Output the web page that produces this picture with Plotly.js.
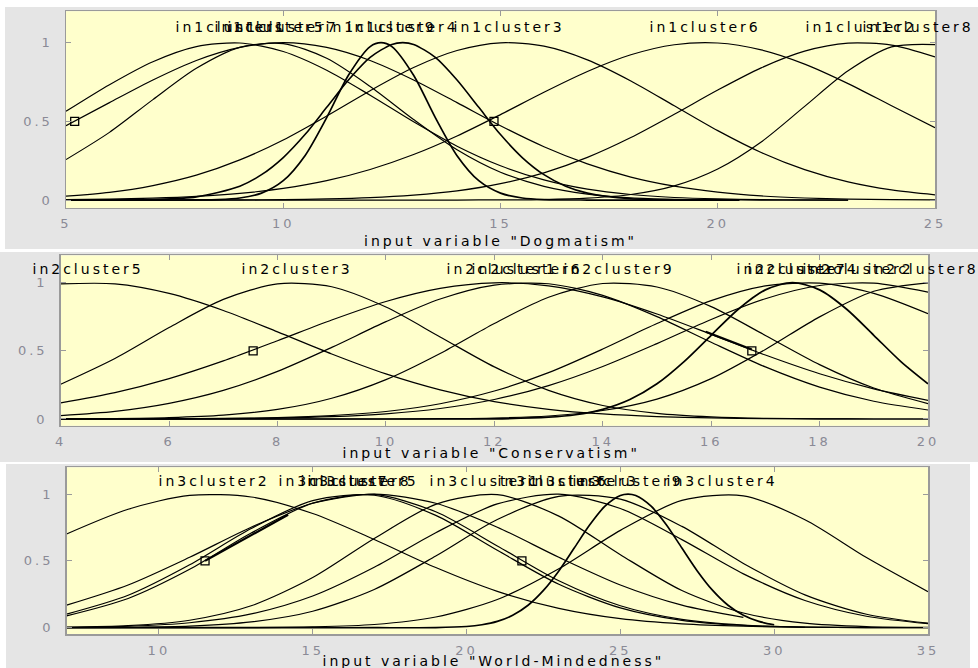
<!DOCTYPE html>
<html><head><meta charset="utf-8">
<script src="https://cdn.plot.ly/plotly-3.0.1.min.js"></script>
<style>
html,body{margin:0;padding:0;background:#fff;}
#wrap{position:relative;width:978px;height:668px;background:#fff;overflow:hidden;}
.panel{position:absolute;background:#e5e5e5;}
#chart{position:absolute;left:0;top:0;width:978px;height:668px;}
#chart text{letter-spacing:3px;}
</style></head><body>
<div id="wrap">
<div class="panel" style="left:5px;top:7px;width:973px;height:242px"></div>
<div class="panel" style="left:0;top:252px;width:978px;height:210px"></div>
<div class="panel" style="left:6px;top:464px;width:964px;height:204px"></div>
<div id="chart"></div>
</div>
<script>
// ---------- Plot 1: Dogmatism ----------
const dogX   = [5,6,7,8,9,10,11,12,13,14,15,16,17,18,19,20,21,22,23,24,25];
const dogX23 = [5,6,7,8,9,10,11,12,13,14,15,16,17,18,19,20,21,22,23];
const dogXD  = [5,6,7,8,8.5,9,9.5,10,10.5,11,11.5,12,12.25,12.5,13,13.5,14,14.5,15,15.5,16,17,18,19,20,20.5];
const dogXE  = [5,6,7,8,9,9.5,10,10.5,11,11.5,12,12.5,12.75,13,13.5,14,14.5,15,15.5,16,16.5,17,18,19,19.5];
const in1c1 = [0.564,0.733,0.879,0.975,0.998,0.944,0.825,0.666,0.497,0.342,0.218,0.128,0.069,0.035,0.016,0.007,0.003,0.001,0.000];
const in1c5 = [0.257,0.430,0.638,0.837,0.970,0.994,0.901,0.722,0.512,0.320,0.177,0.087,0.038,0.014,0.005,0.002,0.000,0,0];
const in1c7 = [0.472,0.619,0.763,0.887,0.970,1.000,0.970,0.887,0.763,0.619,0.472,0.339,0.230,0.146,0.088,0.050,0.026,0.013,0.006,0.003,0.001];
const in1c9 = [0,0,0,0.001,0.003,0.013,0.044,0.123,0.282,0.524,0.793,0.975,1,0.975,0.793,0.524,0.282,0.123,0.044,0.013,0.003,0,0,0,0,0];
const in1c4 = [0,0,0.003,0.020,0.088,0.161,0.270,0.416,0.589,0.763,0.907,0.989,1,0.989,0.907,0.763,0.589,0.416,0.270,0.161,0.088,0.044,0.008,0.001,0];
const in1c3 = [0.025,0.049,0.092,0.158,0.255,0.382,0.534,0.695,0.842,0.950,0.999,0.978,0.891,0.757,0.599,0.441,0.302,0.193,0.115,0.064,0.033];
const in1c6 = [0.003,0.006,0.012,0.023,0.042,0.074,0.123,0.194,0.289,0.407,0.543,0.685,0.817,0.923,0.987,0.998,0.954,0.864,0.740,0.599,0.460];
const in1c2 = [0,0,0,0,0.001,0.003,0.007,0.015,0.031,0.058,0.104,0.173,0.271,0.397,0.545,0.699,0.840,0.946,0.997,0.984,0.909];
const in1c8 = [0,0,0,0,0,0,0,0,0,0,0.001,0.003,0.012,0.035,0.090,0.197,0.369,0.595,0.821,0.973,0.988];
const dogNames   = ['in1cluster1','in1cluster5','in1cluster7','in1cluster9','in1cluster4','in1cluster3','in1cluster6','in1cluster2','in1cluster8'];
const dogCenters = [8.8, 9.7, 10.0, 12.25, 12.75, 15.2, 19.7, 23.3, 24.6];
const dogMarkX = [5.2, 14.85];
const dogMarkY = [0.5, 0.5];
const dogTicks = [5,10,15,20,25];

// ---------- Plot 2: Conservatism ----------
const consX  = [4,5,6,7,8,9,10,11,12,13,14,15,16,17,18,19,20];
const consX7 = [4,5,6,7,8,9,10,11,12,13,13.5,14,14.5,15,15.5,16,16.5,17,17.5,18,18.5,19,19.5,20];
const in2c5 = [0.991,0.991,0.921,0.796,0.639,0.477,0.331,0.214,0.128,0.071,0.037,0.018,0.008,0.003,0.001,0,0];
const in2c3 = [0.255,0.444,0.671,0.877,0.991,0.970,0.821,0.602,0.382,0.210,0.099,0.041,0.015,0.004,0.001,0,0];
const in2c1 = [0.118,0.193,0.296,0.426,0.574,0.726,0.862,0.958,0.999,0.977,0.896,0.770,0.621,0.469,0.332,0.221,0.137];
const in2c6 = [0.025,0.056,0.115,0.210,0.349,0.525,0.714,0.880,0.982,0.992,0.907,0.751,0.563,0.382,0.234,0.130,0.066];
const in2c9 = [0.001,0.003,0.010,0.028,0.070,0.152,0.289,0.481,0.701,0.893,0.994,0.968,0.824,0.613,0.399,0.227,0.113];
const in2c7 = [0,0,0,0,0,0,0,0,0.001,0.013,0.031,0.071,0.143,0.258,0.421,0.614,0.805,0.947,1,0.947,0.805,0.614,0.421,0.258];
const in2c4 = [0,0,0.001,0.004,0.010,0.025,0.055,0.112,0.205,0.340,0.513,0.700,0.868,0.976,0.996,0.921,0.772];
const in2c2 = [0,0,0.001,0.003,0.007,0.017,0.038,0.077,0.143,0.245,0.385,0.553,0.730,0.882,0.979,0.996,0.930];
const in2c8 = [0,0,0,0,0,0,0,0.002,0.007,0.022,0.062,0.146,0.296,0.510,0.749,0.937,0.999];
const consNames   = ['in2cluster5','in2cluster3','in2cluster1','in2cluster6','in2cluster9','in2cluster7','in2cluster4','in2cluster2','in2cluster8'];
const consCenters = [4.5, 8.35, 12.15, 12.6, 14.3, 17.5, 17.7, 18.7, 19.9];
const consMarkX = [7.55, 16.75];
const consMarkY = [0.5, 0.5];
const consSegX = [15.9, 16.75];
const consSegY = [0.64, 0.51];
const consTicks = [4,6,8,10,12,14,16,18,20];

// ---------- Plot 3: World-Mindedness ----------
const wmX   = [7,9,11,13,15,17,19,21,23,25,27,29,31,33,35];
const wmX31 = [7,9,11,13,15,17,19,21,23,25,27,29,31];
const wmX29 = [7,9,11,13,15,17,19,21,23,25,27,29];
const wmX9  = [7,9,11,13,15,17,19,20,20.5,21,21.5,22,22.5,23,23.5,24,24.5,25,25.25,25.5,26,26.5,27,27.5,28,28.5,29,29.5,30];
const in3c2 = [0.701,0.886,0.990,0.978,0.854,0.660,0.450,0.272,0.145,0.068,0.029,0.011,0.003];
const in3c7 = [0.169,0.320,0.527,0.752,0.931,1.000,0.931,0.752,0.527,0.320,0.169,0.077];
const in3c5 = [0.089,0.219,0.437,0.708,0.932,0.997,0.867,0.612,0.351,0.164,0.062,0.019,0.005,0.001,0.000];
const in3c8 = [0.102,0.243,0.471,0.742,0.951,0.991,0.840,0.579,0.325,0.148,0.055,0.017,0.004,0.001,0];
const in3c1 = [0.003,0.015,0.056,0.164,0.375,0.667,0.923,0.995,0.835,0.546,0.278,0.110,0.034,0.008,0.002];
const in3c6 = [0.003,0.011,0.037,0.103,0.237,0.452,0.711,0.926,0.999,0.892,0.659,0.403,0.204,0.086,0.030];
const in3c3 = [0,0.003,0.012,0.043,0.123,0.286,0.536,0.809,0.983,0.962,0.758,0.481,0.246,0.101,0.034];
const in3c9 = [0,0,0,0,0,0,0.001,0.009,0.022,0.047,0.093,0.168,0.279,0.425,0.596,0.768,0.909,0.989,1,0.989,0.909,0.768,0.596,0.425,0.279,0.168,0.093,0.047,0.022];
const in3c4 = [0,0,0,0.001,0.006,0.024,0.080,0.211,0.441,0.728,0.952,0.986,0.808,0.525,0.270];
const wmNames   = ['in3cluster2','in3cluster7','in3cluster8','in3cluster5','in3cluster1','in3cluster6','in3cluster3','in3cluster9','in3cluster4'];
const wmCenters = [11.8, 15.7, 16.4, 16.65, 20.6, 22.8, 23.8, 25.25, 28.3];
const wmMarkX = [11.5, 21.8];
const wmMarkY = [0.5, 0.5];
const wmSegX = [11.5, 14.2];
const wmSegY = [0.5, 0.845];
const wmTicks = [10,15,20,25,30,35];

const titles = ['input variable "Dogmatism"','input variable "Conservatism"','input variable "World-Mindedness"'];

// ---------- build ----------
const traces = [];
function curve(x, y, ax, w) {
  traces.push({type:'scatter', mode:'lines', x:x, y:y, xaxis:'x'+ax, yaxis:'y'+ax,
    line:{color:'#000', width:w||1.2, shape:'spline', smoothing:0.8},
    hoverinfo:'skip', showlegend:false});
}
function marks(x, y, ax) {
  traces.push({type:'scatter', mode:'markers', x:x, y:y, xaxis:'x'+ax, yaxis:'y'+ax,
    marker:{symbol:'square-open', size:8, color:'#000', line:{width:1.3, color:'#000'}},
    hoverinfo:'skip', showlegend:false});
}
function seg(x, y, ax) {
  traces.push({type:'scatter', mode:'lines', x:x, y:y, xaxis:'x'+ax, yaxis:'y'+ax,
    line:{color:'#000', width:2.2}, hoverinfo:'skip', showlegend:false});
}
// plot 1
curve(dogX23, in1c1, '');
curve(dogX23, in1c5, '');
curve(dogX, in1c7, '');
curve(dogXD, in1c9, '', 1.7);
curve(dogXE, in1c4, '', 1.6);
curve(dogX, in1c3, '');
curve(dogX, in1c6, '');
curve(dogX, in1c2, '');
curve(dogX, in1c8, '');
marks(dogMarkX, dogMarkY, '');
// plot 2
curve(consX, in2c5, '2');
curve(consX, in2c3, '2');
curve(consX, in2c1, '2');
curve(consX, in2c6, '2');
curve(consX, in2c9, '2');
curve(consX7, in2c7, '2', 1.7);
curve(consX, in2c4, '2');
curve(consX, in2c2, '2');
curve(consX, in2c8, '2');
marks(consMarkX, consMarkY, '2');
seg(consSegX, consSegY, '2');
// plot 3
curve(wmX31, in3c2, '3');
curve(wmX29, in3c7, '3');
curve(wmX, in3c5, '3');
curve(wmX, in3c8, '3');
curve(wmX, in3c1, '3');
curve(wmX, in3c6, '3');
curve(wmX, in3c3, '3');
curve(wmX9, in3c9, '3', 1.7);
curve(wmX, in3c4, '3');
marks(wmMarkX, wmMarkY, '3');
seg(wmSegX, wmSegY, '3');

const tickFont = {family:'DejaVu Sans, Arial, sans-serif', size:13, color:'#8a8a96'};
function xa(dom, rng, tv, anchor) {
  return {domain:dom, range:rng, tickvals:tv, anchor:anchor, showline:true, linecolor:'#9a9a9a', linewidth:1.5,
    mirror:'ticks', ticks:'inside', ticklen:5, tickcolor:'#9a9a9a', tickwidth:1, showgrid:false, zeroline:false,
    tickfont:tickFont, fixedrange:true, ticklabelstandoff:3};
}
function ya(dom, anchor) {
  return {domain:dom, range:[-0.05,1.2], tickvals:[0,0.5,1], ticktext:['0','0.5','1'], anchor:anchor, showline:true,
    linecolor:'#9a9a9a', linewidth:1.5, mirror:'ticks', ticks:'inside', ticklen:5, tickcolor:'#9a9a9a', tickwidth:1,
    showgrid:false, zeroline:false, tickfont:tickFont, fixedrange:true, ticklabelstandoff:9};
}
const W = 978, H = 668;
const annotations = [];
function labels(names, centers, ax) {
  names.forEach(function(n, i) {
    annotations.push({xref:'x'+ax, yref:'y'+ax, x:centers[i], y:1.1, text:n, showarrow:false,
      xanchor:'center', yanchor:'middle', font:{family:'DejaVu Sans, Arial, sans-serif', size:14, color:'#000'}});
  });
}
labels(dogNames, dogCenters, '');
labels(consNames, consCenters, '2');
labels(wmNames, wmCenters, '3');
const titlePos = [[500,241],[491,453],[493,661]];
titles.forEach(function(t, i) {
  annotations.push({xref:'paper', yref:'paper', x:titlePos[i][0]/W, y:1-titlePos[i][1]/H, text:t, showarrow:false,
    xanchor:'center', yanchor:'middle', font:{family:'DejaVu Sans, Arial, sans-serif', size:14, color:'#000'}});
});

const layout = {
  width:W, height:H, margin:{l:0,r:0,t:0,b:0,pad:0},
  paper_bgcolor:'rgba(0,0,0,0)', plot_bgcolor:'#ffffcc', showlegend:false,
  xaxis:  xa([66/W, 935/W], [5,25], dogTicks, 'y'),
  yaxis:  ya([1-207.9/H, 1-11.2/H], 'x'),
  xaxis2: xa([60.7/W, 928/W], [4,20], consTicks, 'y2'),
  yaxis2: ya([1-425.8/H, 1-255.4/H], 'x2'),
  xaxis3: xa([66.6/W, 928/W], [7,35], wmTicks, 'y3'),
  yaxis3: ya([1-634.4/H, 1-467.3/H], 'x3'),
  annotations: annotations
};
Plotly.newPlot('chart', traces, layout, {displayModeBar:false, staticPlot:true});
</script>
</body></html>
